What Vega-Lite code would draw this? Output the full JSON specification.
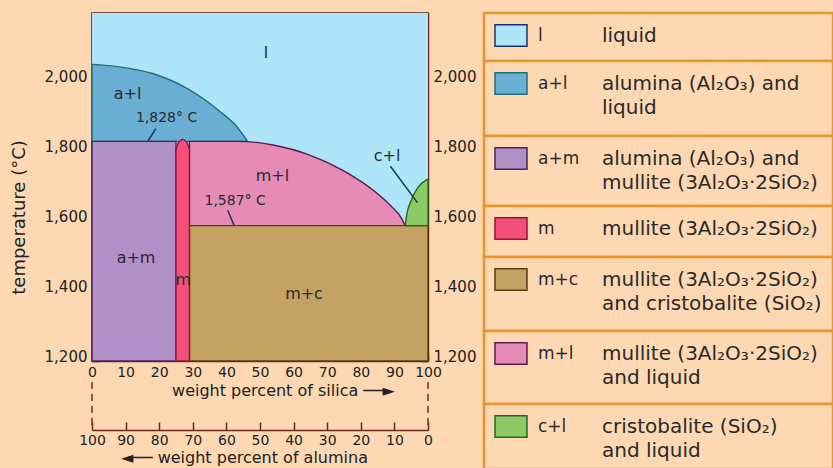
{
  "$schema": "https://vega.github.io/schema/vega-lite/v6.json",
  "background": "#FDD8B2",
  "padding": {"left": 9, "top": 11, "right": 0, "bottom": 0},
  "config": {
    "view": {"stroke": null},
    "font": "DejaVu Sans",
    "axis": {"labelFont": "DejaVu Sans", "titleFont": "DejaVu Sans", "labelColor": "#222222", "titleColor": "#222222", "domainColor": "#6B2A1E", "tickColor": "#6B2A1E", "grid": false, "titleFontWeight": "normal", "domainWidth": 1.5, "tickWidth": 1.5, "labelOverlap": false}
  },
  "datasets": {
    "liquid": [{"phase": "l", "x0": 0, "x1": 100, "t0": 1200, "t1": 2195}],
    "regions": [
      {"phase": "a+l", "x": 0, "top": 2048, "bottom": 1828},
      {"phase": "a+l", "x": 8, "top": 2041, "bottom": 1828},
      {"phase": "a+l", "x": 18, "top": 2022, "bottom": 1828},
      {"phase": "a+l", "x": 28, "top": 1981, "bottom": 1828},
      {"phase": "a+l", "x": 38, "top": 1914, "bottom": 1828},
      {"phase": "a+l", "x": 43, "top": 1871, "bottom": 1828},
      {"phase": "a+l", "x": 46.3, "top": 1828, "bottom": 1828},
      {"phase": "a+m", "x": 0, "top": 1828, "bottom": 1200},
      {"phase": "a+m", "x": 25, "top": 1828, "bottom": 1200},
      {"phase": "m+l", "x": 29, "top": 1828, "bottom": 1587},
      {"phase": "m+l", "x": 44, "top": 1828, "bottom": 1587},
      {"phase": "m+l", "x": 49, "top": 1825, "bottom": 1587},
      {"phase": "m+l", "x": 54.3, "top": 1817, "bottom": 1587},
      {"phase": "m+l", "x": 64.2, "top": 1791, "bottom": 1587},
      {"phase": "m+l", "x": 74.1, "top": 1748, "bottom": 1587},
      {"phase": "m+l", "x": 84, "top": 1686, "bottom": 1587},
      {"phase": "m+l", "x": 89, "top": 1643, "bottom": 1587},
      {"phase": "m+l", "x": 92, "top": 1610, "bottom": 1587},
      {"phase": "m+l", "x": 93.2, "top": 1587, "bottom": 1587},
      {"phase": "m+c", "x": 29, "top": 1587, "bottom": 1200},
      {"phase": "m+c", "x": 100, "top": 1587, "bottom": 1200},
      {"phase": "c+l", "x": 93.2, "top": 1587, "bottom": 1587},
      {"phase": "c+l", "x": 93.7, "top": 1620, "bottom": 1587},
      {"phase": "c+l", "x": 94.9, "top": 1657, "bottom": 1587},
      {"phase": "c+l", "x": 96.9, "top": 1695, "bottom": 1587},
      {"phase": "c+l", "x": 99.4, "top": 1717, "bottom": 1587},
      {"phase": "c+l", "x": 100, "top": 1720, "bottom": 1587},
      {"phase": "m", "x": 25, "top": 1805, "bottom": 1200},
      {"phase": "m", "x": 25.5, "top": 1820, "bottom": 1200},
      {"phase": "m", "x": 26.3, "top": 1830, "bottom": 1200},
      {"phase": "m", "x": 27, "top": 1834, "bottom": 1200},
      {"phase": "m", "x": 27.7, "top": 1830, "bottom": 1200},
      {"phase": "m", "x": 28.5, "top": 1820, "bottom": 1200},
      {"phase": "m", "x": 29, "top": 1805, "bottom": 1200}
    ],
    "leaders": [
      {"x": 19.0, "T": 1864, "x2": 16.6, "T2": 1828},
      {"x": 40.4, "T": 1631, "x2": 42.3, "T2": 1587},
      {"x": 88.8, "T": 1757, "x2": 96.9, "T2": 1652}
    ],
    "phaseLabels": [
      {"label": "l", "x": 51.8, "T": 2081},
      {"label": "a+l", "x": 10.6, "T": 1962},
      {"label": "c+l", "x": 87.8, "T": 1786},
      {"label": "m+l", "x": 53.7, "T": 1729},
      {"label": "a+m", "x": 13.1, "T": 1495},
      {"label": "m", "x": 27.2, "T": 1433},
      {"label": "m+c", "x": 63.1, "T": 1391}
    ],
    "isotherms": [
      {"label": "1,828° C", "x": 22.2, "T": 1895},
      {"label": "1,587° C", "x": 42.6, "T": 1657}
    ],
    "alumina": [{"alumina": 0}, {"alumina": 100}],
    "legend": [
      {"phase": "l", "line1": "liquid", "line2": ""},
      {"phase": "a+l", "line1": "alumina (Al₂O₃) and", "line2": "liquid"},
      {"phase": "a+m", "line1": "alumina (Al₂O₃) and", "line2": "mullite (3Al₂O₃·2SiO₂)"},
      {"phase": "m", "line1": "mullite (3Al₂O₃·2SiO₂)", "line2": ""},
      {"phase": "m+c", "line1": "mullite (3Al₂O₃·2SiO₂)", "line2": "and cristobalite (SiO₂)"},
      {"phase": "m+l", "line1": "mullite (3Al₂O₃·2SiO₂)", "line2": "and liquid"},
      {"phase": "c+l", "line1": "cristobalite (SiO₂)", "line2": "and liquid"}
    ]
  },
  "spacing": 5,
  "hconcat": [
    {
      "spacing": 21,
      "bounds": "flush",
      "vconcat": [
        {
          "width": 336,
          "height": 348,
          "view": {"stroke": "#5A2418", "strokeWidth": 1.5},
          "resolve": {"scale": {"y": "independent"}},
          "layer": [
            {
              "layer": [
                {
                  "data": {"name": "liquid"},
                  "mark": {"type": "rect"},
                  "encoding": {
                    "x": {"field": "x0", "type": "quantitative", "scale": {"domain": [0, 100], "nice": false, "zero": false},
                      "axis": {"values": [0, 10, 20, 30, 40, 50, 60, 70, 80, 90, 100], "tickSize": -8, "labelFontSize": 14, "labelPadding": 12, "labelFlush": false, "labelOverlap": false, "format": "d", "title": "weight percent of silica ──►", "titleFontSize": 16, "titleX": 191, "titleAlign": "center", "titlePadding": 3}},
                    "x2": {"field": "x1"},
                    "y": {"field": "t0", "type": "quantitative", "scale": {"domain": [1200, 2195], "nice": false, "zero": false},
                      "axis": {"values": [1200, 1300, 1400, 1500, 1600, 1700, 1800, 1900, 2000, 2100], "tickSize": -7, "labelExpr": "datum.value % 200 === 0 ? format(datum.value, ',') : ''", "labelFontSize": 15, "labelPadding": 12, "labelOffset": -5, "labelOverlap": false, "title": "temperature (°C)", "titleFontSize": 18, "titleX": -73, "titleY": 204, "titleAngle": -90, "titleAlign": "center", "titleBaseline": "middle"}},
                    "y2": {"field": "t1"},
                    "fill": {"field": "phase", "type": "nominal", "legend": null,
                      "scale": {"domain": ["l", "a+l", "a+m", "m", "m+c", "m+l", "c+l"], "range": ["#AEE5F8", "#6AAFD3", "#B18FC7", "#F5507B", "#C4A263", "#E68BB6", "#8DCA66"]}}
                  }
                },
                {
                  "data": {"name": "regions"},
                  "mark": {"type": "area", "interpolate": "monotone", "strokeWidth": 1.4},
                  "encoding": {
                    "x": {"field": "x", "type": "quantitative",
                      "axis": {"values": [0, 10, 20, 30, 40, 50, 60, 70, 80, 90, 100], "tickSize": -8, "labelFontSize": 14, "labelPadding": 12, "labelFlush": false, "labelOverlap": false, "format": "d", "title": "weight percent of silica ──►", "titleFontSize": 16, "titleX": 191, "titleAlign": "center", "titlePadding": 3}},
                    "y": {"field": "top", "type": "quantitative",
                      "axis": {"values": [1200, 1300, 1400, 1500, 1600, 1700, 1800, 1900, 2000, 2100], "tickSize": -7, "labelExpr": "datum.value % 200 === 0 ? format(datum.value, ',') : ''", "labelFontSize": 15, "labelPadding": 12, "labelOffset": -5, "labelOverlap": false, "title": "temperature (°C)", "titleFontSize": 18, "titleX": -73, "titleY": 204, "titleAngle": -90, "titleAlign": "center", "titleBaseline": "middle"}},
                    "y2": {"field": "bottom"},
                    "fill": {"field": "phase", "type": "nominal", "legend": null,
                      "scale": {"domain": ["l", "a+l", "a+m", "m", "m+c", "m+l", "c+l"], "range": ["#AEE5F8", "#6AAFD3", "#B18FC7", "#F5507B", "#C4A263", "#E68BB6", "#8DCA66"]}},
                    "stroke": {"field": "phase", "type": "nominal", "legend": null,
                      "scale": {"domain": ["l", "a+l", "a+m", "m", "m+c", "m+l", "c+l"], "range": ["#1E2F6E", "#1E6F7C", "#4A2366", "#8E1638", "#5C3A16", "#5B1A4E", "#1F6A22"]}}
                  }
                },
                {
                  "data": {"name": "leaders"},
                  "mark": {"type": "rule", "color": "#1F3550", "strokeWidth": 1.5},
                  "encoding": {
                    "x": {"field": "x", "type": "quantitative",
                      "axis": {"values": [0, 10, 20, 30, 40, 50, 60, 70, 80, 90, 100], "tickSize": -8, "labelFontSize": 14, "labelPadding": 12, "labelFlush": false, "labelOverlap": false, "format": "d", "title": "weight percent of silica ──►", "titleFontSize": 16, "titleX": 191, "titleAlign": "center", "titlePadding": 3}},
                    "y": {"field": "T", "type": "quantitative",
                      "axis": {"values": [1200, 1300, 1400, 1500, 1600, 1700, 1800, 1900, 2000, 2100], "tickSize": -7, "labelExpr": "datum.value % 200 === 0 ? format(datum.value, ',') : ''", "labelFontSize": 15, "labelPadding": 12, "labelOffset": -5, "labelOverlap": false, "title": "temperature (°C)", "titleFontSize": 18, "titleX": -73, "titleY": 204, "titleAngle": -90, "titleAlign": "center", "titleBaseline": "middle"}},
                    "x2": {"field": "x2"},
                    "y2": {"field": "T2"}
                  }
                }
              ]
            },
            {
              "layer": [
                {
                  "data": {"name": "phaseLabels"},
                  "mark": {"type": "text", "fontSize": 16, "color": "#2A2A2A", "align": "center", "baseline": "middle"},
                  "encoding": {
                    "x": {"field": "x", "type": "quantitative",
                      "axis": {"values": [0, 10, 20, 30, 40, 50, 60, 70, 80, 90, 100], "tickSize": -8, "labelFontSize": 14, "labelPadding": 12, "labelFlush": false, "labelOverlap": false, "format": "d", "title": "weight percent of silica ──►", "titleFontSize": 16, "titleX": 191, "titleAlign": "center", "titlePadding": 3}},
                    "y": {"field": "T", "type": "quantitative", "scale": {"domain": [1200, 2195], "nice": false, "zero": false},
                      "axis": {"orient": "right", "values": [1200, 1300, 1400, 1500, 1600, 1700, 1800, 1900, 2000, 2100], "tickSize": -7, "labelExpr": "datum.value % 200 === 0 ? format(datum.value, ',') : ''", "labelFontSize": 15, "labelPadding": 12, "labelOffset": -5, "labelOverlap": false, "title": null}},
                    "text": {"field": "label"}
                  }
                },
                {
                  "data": {"name": "isotherms"},
                  "mark": {"type": "text", "fontSize": 14, "color": "#2A2A2A", "align": "center", "baseline": "middle"},
                  "encoding": {
                    "x": {"field": "x", "type": "quantitative",
                      "axis": {"values": [0, 10, 20, 30, 40, 50, 60, 70, 80, 90, 100], "tickSize": -8, "labelFontSize": 14, "labelPadding": 12, "labelFlush": false, "labelOverlap": false, "format": "d", "title": "weight percent of silica ──►", "titleFontSize": 16, "titleX": 191, "titleAlign": "center", "titlePadding": 3}},
                    "y": {"field": "T", "type": "quantitative",
                      "axis": {"orient": "right", "values": [1200, 1300, 1400, 1500, 1600, 1700, 1800, 1900, 2000, 2100], "tickSize": -7, "labelExpr": "datum.value % 200 === 0 ? format(datum.value, ',') : ''", "labelFontSize": 15, "labelPadding": 12, "labelOffset": -5, "labelOverlap": false, "title": null}},
                    "text": {"field": "label"}
                  }
                }
              ]
            }
          ]
        },
        {
          "width": 336,
          "height": 48,
          "data": {"name": "alumina"},
          "mark": {"type": "rule", "strokeDash": [7, 5], "color": "#7A2A1E", "strokeWidth": 1.5},
          "encoding": {
            "x": {"field": "alumina", "type": "quantitative", "scale": {"domain": [0, 100], "reverse": true, "nice": false, "zero": false},
              "axis": {"values": [0, 10, 20, 30, 40, 50, 60, 70, 80, 90, 100], "tickSize": -8, "labelFontSize": 14, "labelPadding": 11, "labelFlush": false, "labelOverlap": false, "format": "d", "title": "◄── weight percent of alumina", "titleFontSize": 16, "titleX": 152, "titleAlign": "center", "titlePadding": 2}}
          }
        }
      ]
    },
    {
      "spacing": 0,
      "bounds": "flush",
      "vconcat": [
        {"width": 349, "height": 48, "view": {"fill": "#FDD8B2", "stroke": "#E8952E", "strokeWidth": 2.5}, "data": {"name": "legend"}, "transform": [{"filter": "datum.phase === 'l'"}],
          "layer": [
            {"mark": {"type": "rect", "strokeWidth": 1.5}, "encoding": {"x": {"datum": 11, "type": "quantitative", "scale": {"domain": [0, 349], "nice": false}, "axis": null}, "x2": {"datum": 43}, "y": {"datum": 0.55, "type": "quantitative", "scale": {"domain": [0, 3], "range": [-1.5, 70.5], "nice": false}, "axis": null}, "y2": {"datum": 1.45},
              "fill": {"field": "phase", "type": "nominal", "legend": null, "scale": {"domain": ["l", "a+l", "a+m", "m", "m+c", "m+l", "c+l"], "range": ["#AEE5F8", "#6AAFD3", "#B18FC7", "#F5507B", "#C4A263", "#E68BB6", "#8DCA66"]}},
              "stroke": {"field": "phase", "type": "nominal", "legend": null, "scale": {"domain": ["l", "a+l", "a+m", "m", "m+c", "m+l", "c+l"], "range": ["#1E2F6E", "#1E6F7C", "#4A2366", "#8E1638", "#5C3A16", "#5B1A4E", "#1F6A22"]}}}},
            {"mark": {"type": "text", "align": "left", "baseline": "middle", "fontSize": 17, "color": "#2A2A2A", "clip": true}, "encoding": {"x": {"datum": 54, "type": "quantitative"}, "y": {"datum": 1, "type": "quantitative"}, "text": {"field": "phase"}}},
            {"mark": {"type": "text", "align": "left", "baseline": "middle", "fontSize": 20, "color": "#2A2A2A", "clip": true}, "encoding": {"x": {"datum": 118, "type": "quantitative"}, "y": {"datum": 1, "type": "quantitative"}, "text": {"field": "line1"}}},
            {"mark": {"type": "text", "align": "left", "baseline": "middle", "fontSize": 20, "color": "#2A2A2A", "clip": true}, "encoding": {"x": {"datum": 118, "type": "quantitative"}, "y": {"datum": 2, "type": "quantitative"}, "text": {"field": "line2"}}}
          ]},
        {"width": 349, "height": 75, "view": {"fill": "#FDD8B2", "stroke": "#E8952E", "strokeWidth": 2.5}, "data": {"name": "legend"}, "transform": [{"filter": "datum.phase === 'a+l'"}],
          "layer": [
            {"mark": {"type": "rect", "strokeWidth": 1.5}, "encoding": {"x": {"datum": 11, "type": "quantitative", "scale": {"domain": [0, 349], "nice": false}, "axis": null}, "x2": {"datum": 43}, "y": {"datum": 0.55, "type": "quantitative", "scale": {"domain": [0, 3], "range": [-1.5, 70.5], "nice": false}, "axis": null}, "y2": {"datum": 1.45},
              "fill": {"field": "phase", "type": "nominal", "legend": null, "scale": {"domain": ["l", "a+l", "a+m", "m", "m+c", "m+l", "c+l"], "range": ["#AEE5F8", "#6AAFD3", "#B18FC7", "#F5507B", "#C4A263", "#E68BB6", "#8DCA66"]}},
              "stroke": {"field": "phase", "type": "nominal", "legend": null, "scale": {"domain": ["l", "a+l", "a+m", "m", "m+c", "m+l", "c+l"], "range": ["#1E2F6E", "#1E6F7C", "#4A2366", "#8E1638", "#5C3A16", "#5B1A4E", "#1F6A22"]}}}},
            {"mark": {"type": "text", "align": "left", "baseline": "middle", "fontSize": 17, "color": "#2A2A2A", "clip": true}, "encoding": {"x": {"datum": 54, "type": "quantitative"}, "y": {"datum": 1, "type": "quantitative"}, "text": {"field": "phase"}}},
            {"mark": {"type": "text", "align": "left", "baseline": "middle", "fontSize": 20, "color": "#2A2A2A", "clip": true}, "encoding": {"x": {"datum": 118, "type": "quantitative"}, "y": {"datum": 1, "type": "quantitative"}, "text": {"field": "line1"}}},
            {"mark": {"type": "text", "align": "left", "baseline": "middle", "fontSize": 20, "color": "#2A2A2A", "clip": true}, "encoding": {"x": {"datum": 118, "type": "quantitative"}, "y": {"datum": 2, "type": "quantitative"}, "text": {"field": "line2"}}}
          ]},
        {"width": 349, "height": 70, "view": {"fill": "#FDD8B2", "stroke": "#E8952E", "strokeWidth": 2.5}, "data": {"name": "legend"}, "transform": [{"filter": "datum.phase === 'a+m'"}],
          "layer": [
            {"mark": {"type": "rect", "strokeWidth": 1.5}, "encoding": {"x": {"datum": 11, "type": "quantitative", "scale": {"domain": [0, 349], "nice": false}, "axis": null}, "x2": {"datum": 43}, "y": {"datum": 0.55, "type": "quantitative", "scale": {"domain": [0, 3], "range": [-1.5, 70.5], "nice": false}, "axis": null}, "y2": {"datum": 1.45},
              "fill": {"field": "phase", "type": "nominal", "legend": null, "scale": {"domain": ["l", "a+l", "a+m", "m", "m+c", "m+l", "c+l"], "range": ["#AEE5F8", "#6AAFD3", "#B18FC7", "#F5507B", "#C4A263", "#E68BB6", "#8DCA66"]}},
              "stroke": {"field": "phase", "type": "nominal", "legend": null, "scale": {"domain": ["l", "a+l", "a+m", "m", "m+c", "m+l", "c+l"], "range": ["#1E2F6E", "#1E6F7C", "#4A2366", "#8E1638", "#5C3A16", "#5B1A4E", "#1F6A22"]}}}},
            {"mark": {"type": "text", "align": "left", "baseline": "middle", "fontSize": 17, "color": "#2A2A2A", "clip": true}, "encoding": {"x": {"datum": 54, "type": "quantitative"}, "y": {"datum": 1, "type": "quantitative"}, "text": {"field": "phase"}}},
            {"mark": {"type": "text", "align": "left", "baseline": "middle", "fontSize": 20, "color": "#2A2A2A", "clip": true}, "encoding": {"x": {"datum": 118, "type": "quantitative"}, "y": {"datum": 1, "type": "quantitative"}, "text": {"field": "line1"}}},
            {"mark": {"type": "text", "align": "left", "baseline": "middle", "fontSize": 20, "color": "#2A2A2A", "clip": true}, "encoding": {"x": {"datum": 118, "type": "quantitative"}, "y": {"datum": 2, "type": "quantitative"}, "text": {"field": "line2"}}}
          ]},
        {"width": 349, "height": 51, "view": {"fill": "#FDD8B2", "stroke": "#E8952E", "strokeWidth": 2.5}, "data": {"name": "legend"}, "transform": [{"filter": "datum.phase === 'm'"}],
          "layer": [
            {"mark": {"type": "rect", "strokeWidth": 1.5}, "encoding": {"x": {"datum": 11, "type": "quantitative", "scale": {"domain": [0, 349], "nice": false}, "axis": null}, "x2": {"datum": 43}, "y": {"datum": 0.55, "type": "quantitative", "scale": {"domain": [0, 3], "range": [-1.5, 70.5], "nice": false}, "axis": null}, "y2": {"datum": 1.45},
              "fill": {"field": "phase", "type": "nominal", "legend": null, "scale": {"domain": ["l", "a+l", "a+m", "m", "m+c", "m+l", "c+l"], "range": ["#AEE5F8", "#6AAFD3", "#B18FC7", "#F5507B", "#C4A263", "#E68BB6", "#8DCA66"]}},
              "stroke": {"field": "phase", "type": "nominal", "legend": null, "scale": {"domain": ["l", "a+l", "a+m", "m", "m+c", "m+l", "c+l"], "range": ["#1E2F6E", "#1E6F7C", "#4A2366", "#8E1638", "#5C3A16", "#5B1A4E", "#1F6A22"]}}}},
            {"mark": {"type": "text", "align": "left", "baseline": "middle", "fontSize": 17, "color": "#2A2A2A", "clip": true}, "encoding": {"x": {"datum": 54, "type": "quantitative"}, "y": {"datum": 1, "type": "quantitative"}, "text": {"field": "phase"}}},
            {"mark": {"type": "text", "align": "left", "baseline": "middle", "fontSize": 20, "color": "#2A2A2A", "clip": true}, "encoding": {"x": {"datum": 118, "type": "quantitative"}, "y": {"datum": 1, "type": "quantitative"}, "text": {"field": "line1"}}},
            {"mark": {"type": "text", "align": "left", "baseline": "middle", "fontSize": 20, "color": "#2A2A2A", "clip": true}, "encoding": {"x": {"datum": 118, "type": "quantitative"}, "y": {"datum": 2, "type": "quantitative"}, "text": {"field": "line2"}}}
          ]},
        {"width": 349, "height": 74, "view": {"fill": "#FDD8B2", "stroke": "#E8952E", "strokeWidth": 2.5}, "data": {"name": "legend"}, "transform": [{"filter": "datum.phase === 'm+c'"}],
          "layer": [
            {"mark": {"type": "rect", "strokeWidth": 1.5}, "encoding": {"x": {"datum": 11, "type": "quantitative", "scale": {"domain": [0, 349], "nice": false}, "axis": null}, "x2": {"datum": 43}, "y": {"datum": 0.55, "type": "quantitative", "scale": {"domain": [0, 3], "range": [-1.5, 70.5], "nice": false}, "axis": null}, "y2": {"datum": 1.45},
              "fill": {"field": "phase", "type": "nominal", "legend": null, "scale": {"domain": ["l", "a+l", "a+m", "m", "m+c", "m+l", "c+l"], "range": ["#AEE5F8", "#6AAFD3", "#B18FC7", "#F5507B", "#C4A263", "#E68BB6", "#8DCA66"]}},
              "stroke": {"field": "phase", "type": "nominal", "legend": null, "scale": {"domain": ["l", "a+l", "a+m", "m", "m+c", "m+l", "c+l"], "range": ["#1E2F6E", "#1E6F7C", "#4A2366", "#8E1638", "#5C3A16", "#5B1A4E", "#1F6A22"]}}}},
            {"mark": {"type": "text", "align": "left", "baseline": "middle", "fontSize": 17, "color": "#2A2A2A", "clip": true}, "encoding": {"x": {"datum": 54, "type": "quantitative"}, "y": {"datum": 1, "type": "quantitative"}, "text": {"field": "phase"}}},
            {"mark": {"type": "text", "align": "left", "baseline": "middle", "fontSize": 20, "color": "#2A2A2A", "clip": true}, "encoding": {"x": {"datum": 118, "type": "quantitative"}, "y": {"datum": 1, "type": "quantitative"}, "text": {"field": "line1"}}},
            {"mark": {"type": "text", "align": "left", "baseline": "middle", "fontSize": 20, "color": "#2A2A2A", "clip": true}, "encoding": {"x": {"datum": 118, "type": "quantitative"}, "y": {"datum": 2, "type": "quantitative"}, "text": {"field": "line2"}}}
          ]},
        {"width": 349, "height": 73, "view": {"fill": "#FDD8B2", "stroke": "#E8952E", "strokeWidth": 2.5}, "data": {"name": "legend"}, "transform": [{"filter": "datum.phase === 'm+l'"}],
          "layer": [
            {"mark": {"type": "rect", "strokeWidth": 1.5}, "encoding": {"x": {"datum": 11, "type": "quantitative", "scale": {"domain": [0, 349], "nice": false}, "axis": null}, "x2": {"datum": 43}, "y": {"datum": 0.55, "type": "quantitative", "scale": {"domain": [0, 3], "range": [-1.5, 70.5], "nice": false}, "axis": null}, "y2": {"datum": 1.45},
              "fill": {"field": "phase", "type": "nominal", "legend": null, "scale": {"domain": ["l", "a+l", "a+m", "m", "m+c", "m+l", "c+l"], "range": ["#AEE5F8", "#6AAFD3", "#B18FC7", "#F5507B", "#C4A263", "#E68BB6", "#8DCA66"]}},
              "stroke": {"field": "phase", "type": "nominal", "legend": null, "scale": {"domain": ["l", "a+l", "a+m", "m", "m+c", "m+l", "c+l"], "range": ["#1E2F6E", "#1E6F7C", "#4A2366", "#8E1638", "#5C3A16", "#5B1A4E", "#1F6A22"]}}}},
            {"mark": {"type": "text", "align": "left", "baseline": "middle", "fontSize": 17, "color": "#2A2A2A", "clip": true}, "encoding": {"x": {"datum": 54, "type": "quantitative"}, "y": {"datum": 1, "type": "quantitative"}, "text": {"field": "phase"}}},
            {"mark": {"type": "text", "align": "left", "baseline": "middle", "fontSize": 20, "color": "#2A2A2A", "clip": true}, "encoding": {"x": {"datum": 118, "type": "quantitative"}, "y": {"datum": 1, "type": "quantitative"}, "text": {"field": "line1"}}},
            {"mark": {"type": "text", "align": "left", "baseline": "middle", "fontSize": 20, "color": "#2A2A2A", "clip": true}, "encoding": {"x": {"datum": 118, "type": "quantitative"}, "y": {"datum": 2, "type": "quantitative"}, "text": {"field": "line2"}}}
          ]},
        {"width": 349, "height": 65, "view": {"fill": "#FDD8B2", "stroke": "#E8952E", "strokeWidth": 2.5}, "data": {"name": "legend"}, "transform": [{"filter": "datum.phase === 'c+l'"}],
          "layer": [
            {"mark": {"type": "rect", "strokeWidth": 1.5}, "encoding": {"x": {"datum": 11, "type": "quantitative", "scale": {"domain": [0, 349], "nice": false}, "axis": null}, "x2": {"datum": 43}, "y": {"datum": 0.55, "type": "quantitative", "scale": {"domain": [0, 3], "range": [-1.5, 70.5], "nice": false}, "axis": null}, "y2": {"datum": 1.45},
              "fill": {"field": "phase", "type": "nominal", "legend": null, "scale": {"domain": ["l", "a+l", "a+m", "m", "m+c", "m+l", "c+l"], "range": ["#AEE5F8", "#6AAFD3", "#B18FC7", "#F5507B", "#C4A263", "#E68BB6", "#8DCA66"]}},
              "stroke": {"field": "phase", "type": "nominal", "legend": null, "scale": {"domain": ["l", "a+l", "a+m", "m", "m+c", "m+l", "c+l"], "range": ["#1E2F6E", "#1E6F7C", "#4A2366", "#8E1638", "#5C3A16", "#5B1A4E", "#1F6A22"]}}}},
            {"mark": {"type": "text", "align": "left", "baseline": "middle", "fontSize": 17, "color": "#2A2A2A", "clip": true}, "encoding": {"x": {"datum": 54, "type": "quantitative"}, "y": {"datum": 1, "type": "quantitative"}, "text": {"field": "phase"}}},
            {"mark": {"type": "text", "align": "left", "baseline": "middle", "fontSize": 20, "color": "#2A2A2A", "clip": true}, "encoding": {"x": {"datum": 118, "type": "quantitative"}, "y": {"datum": 1, "type": "quantitative"}, "text": {"field": "line1"}}},
            {"mark": {"type": "text", "align": "left", "baseline": "middle", "fontSize": 20, "color": "#2A2A2A", "clip": true}, "encoding": {"x": {"datum": 118, "type": "quantitative"}, "y": {"datum": 2, "type": "quantitative"}, "text": {"field": "line2"}}}
          ]}
      ]
    }
  ]
}
